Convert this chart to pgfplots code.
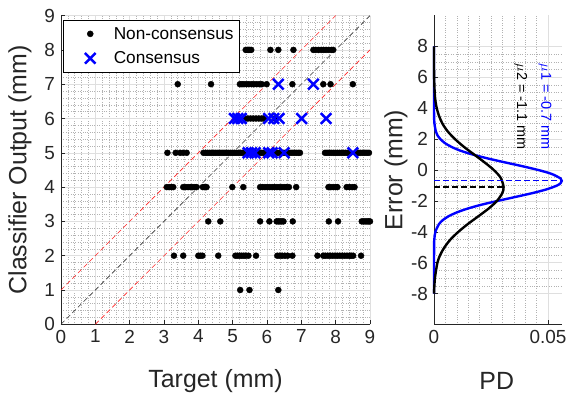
\documentclass[border=0pt]{standalone}
\usepackage{pgfplots}
\pgfplotsset{compat=1.18}
\usepackage{fontspec}
\setmainfont{Liberation Sans}
\definecolor{mgray}{gray}{0.15}
\newcommand{\lgf}{\fontsize{17.3}{19}\selectfont}
\begin{document}
\begin{tikzpicture}
\useasboundingbox (0,0) rectangle (572bp,396bp);
\pgfplotsset{
  myaxis/.style={
    scale only axis,
    axis lines*=left, axis line style={mgray, line width=0.5bp, -},
    tick align=inside, tick style={mgray, line width=0.5bp}, major tick length=4bp, minor tick length=0pt,
    grid=both,
    major grid style={gray!25, line width=0.5bp},
    minor grid style={gray!60, dotted, line width=0.5bp},
    ticklabel style={font=\fontsize{19}{22}\selectfont, text=mgray},
    label style={font=\fontsize{25}{30}\selectfont, text=mgray},
    xticklabel style={yshift=-2bp},
    yticklabel style={xshift=-2.5bp},
    /pgf/number format/assume math mode=true,
    clip=false,
  }
}
\begin{axis}[myaxis, at={(61bp,71.7bp)}, anchor=south west, width=309bp, height=308.7bp,
  xmin=0, xmax=9, ymin=0, ymax=9, xtick={0,...,9}, ytick={0,...,9}, minor tick num=4,
  xlabel={Target (mm)}, ylabel={Classifier Output (mm)},
  xlabel style={at={(axis description cs:0.5,-0.183)}, anchor=center},
  ylabel style={at={(axis description cs:-0.133,0.5)}, anchor=center},
  legend cell align=left,
  legend style={at={(axis description cs:0.0065,0.986)}, anchor=north west, draw=black, line width=0.5bp, fill=white,
    text=black, inner xsep=2bp, inner ysep=2.5bp, column sep=1bp, row sep=2bp, nodes={inner xsep=3.5bp, inner ysep=4.5bp}},
  legend image code/.code={\path[draw=none,fill=none] (0bp,-6bp) rectangle (44bp,6bp); \draw[#1] plot coordinates {(25bp,0bp)};},
]
% Non-consensus
\addplot[only marks, mark=*, mark size=3bp, black, mark options={draw=black, fill=black}] coordinates {
(5.38,8)(5.42,8)(5.46,8)(5.50,8)(5.54,8)(6.10,8)(6.33,8)(6.77,8)(7.35,8)(7.42,8)(7.50,8)(7.58,8)(7.65,8)(7.72,8)(7.80,8)(7.88,8)(7.93,8)
(3.40,7)(4.37,7)(5.21,7)(5.27,7)(5.33,7)(5.40,7)(5.47,7)(5.55,7)(5.62,7)(5.70,7)(5.78,7)(5.85,7)(5.99,7)(6.74,7)(7.64,7)(7.85,7)(8.50,7)
(5.36,6)(5.44,6)(5.52,6)(5.60,6)(5.68,6)(5.76,6)(5.84,6)(5.90,6)(6.23,6)
(3.10,5)(3.34,5)(3.47,5)(3.56,5)(3.66,5)(4.15,5)(4.21,5)(4.27,5)(4.33,5)(4.39,5)(4.45,5)(4.51,5)(4.57,5)(4.63,5)(4.69,5)(4.75,5)(4.81,5)(4.87,5)(4.93,5)(4.99,5)(5.05,5)(5.11,5)(5.17,5)(5.23,5)(5.29,5)(5.35,5)(5.41,5)(5.47,5)(5.53,5)(5.59,5)(5.65,5)(5.71,5)(5.77,5)(5.83,5)(5.89,5)(5.95,5)(6.01,5)(6.07,5)(6.13,5)(6.19,5)(6.25,5)(6.31,5)(6.37,5)(6.43,5)(6.49,5)(6.55,5)(6.61,5)(6.67,5)(6.73,5)(6.79,5)(6.85,5)(6.91,5)(6.96,5)(7.69,5)(7.75,5)(7.81,5)(7.87,5)(7.93,5)(7.99,5)(8.05,5)(8.11,5)(8.17,5)(8.23,5)(8.29,5)(8.35,5)(8.42,5)(8.61,5)(8.67,5)(8.73,5)(8.79,5)(8.85,5)(8.91,5)(8.97,5)
(3.08,4)(3.15,4)(3.22,4)(3.27,4)(3.56,4)(3.63,4)(3.70,4)(3.77,4)(3.84,4)(3.90,4)(3.95,4)(4.13,4)(4.18,4)(4.24,4)(4.99,4)(5.31,4)(5.80,4)(5.87,4)(5.94,4)(6.01,4)(6.08,4)(6.15,4)(6.22,4)(6.29,4)(6.36,4)(6.43,4)(6.50,4)(6.57,4)(6.64,4)(6.85,4)(7.79,4)(7.86,4)(7.93,4)(8.00,4)(8.05,4)(8.32,4)(8.40,4)(8.48,4)(8.55,4)
(4.29,3)(4.64,3)(5.80,3)(6.07,3)(6.28,3)(6.33,3)(6.38,3)(6.43,3)(6.48,3)(6.75,3)(7.80,3)(8.07,3)(8.76,3)(8.81,3)(8.86,3)(8.91,3)(8.96,3)(9.00,3)
(3.29,2)(3.56,2)(4.00,2)(4.06,2)(4.12,2)(4.58,2)(5.08,2)(5.14,2)(5.20,2)(5.26,2)(5.32,2)(5.38,2)(5.46,2)(5.68,2)(6.30,2)(6.37,2)(6.44,2)(6.52,2)(6.60,2)(6.74,2)(7.47,2)(7.64,2)(7.70,2)(7.77,2)(7.84,2)(7.91,2)(7.98,2)(8.05,2)(8.12,2)(8.19,2)(8.26,2)(8.33,2)(8.40,2)(8.45,2)(8.51,2)(8.74,2)
(5.22,1)(5.49,1)(6.33,1)
};
\addlegendentry{\lgf Non-consensus}
% Consensus
\addplot[only marks, mark=x, mark size=7.5bp, blue, line width=2.5bp] coordinates {
(6.33,7)(7.35,7)
(5.05,6)(5.15,6)(5.25,6)(6.05,6)(6.20,6)(6.35,6)(7.01,6)(7.72,6)
(5.45,5)(5.55,5)(5.65,5)(6.05,5)(6.15,5)(6.50,5)(8.50,5)
};
\addlegendentry{\lgf Consensus}
\addplot[forget plot, black!80, line width=0.6bp, dash pattern=on 5bp off 3bp] coordinates {(0,0)(9,9)};
\addplot[forget plot, red!85, line width=0.6bp, dash pattern=on 5bp off 3bp] coordinates {(0,1)(8,9)};
\addplot[forget plot, red!85, line width=0.6bp, dash pattern=on 5bp off 3bp] coordinates {(1,0)(9,8)};
\end{axis}

\begin{axis}[myaxis, at={(434bp,71.5bp)}, anchor=south west, width=128bp, height=309bp,
  xmin=0, xmax=0.0561, ymin=-10, ymax=10,
  xtick={0,0.05}, xticklabels={0,0.05}, scaled x ticks=false,
  ytick={-8,-6,...,8}, yticklabels={-8,-6,-4,-2,0,2,4,6,8},
  minor x tick num=9, minor y tick num=3,
  xlabel={PD}, ylabel={Error (mm)},
  xlabel style={at={(axis description cs:0.49,-0.183)}, anchor=center},
  ylabel style={at={(axis description cs:-0.297,0.5)}, anchor=center},
]
\addplot[blue, line width=2.4bp, smooth] coordinates {
(0,-8)(0.00003,-5)(0.00014,-4.5)(0.0006,-4)(0.0022,-3.5)(0.0038,-3.25)(0.0063,-3)(0.0099,-2.75)(0.0147,-2.5)(0.0207,-2.25)(0.0279,-2)(0.0355,-1.75)(0.0430,-1.5)(0.0494,-1.25)(0.0540,-1)(0.0555,-0.85)(0.0560,-0.7)(0.0555,-0.55)(0.0515,-0.25)(0.0457,0)(0.0386,0.25)(0.0309,0.5)(0.0235,0.75)(0.0170,1)(0.0116,1.25)(0.0076,1.5)(0.0047,1.75)(0.0028,2)(0.0015,2.25)(0.0008,2.5)(0.0002,3)(0.00004,3.5)(0,4.5)(0,8)
};
\addplot[black, line width=2.4bp, smooth] coordinates {
(0,-8)(0.0004,-7)(0.0015,-6)(0.0027,-5.5)(0.0046,-5)(0.0072,-4.5)(0.0107,-4)(0.0148,-3.5)(0.0194,-3)(0.0239,-2.5)(0.0276,-2)(0.0299,-1.5)(0.0305,-1.1)(0.0292,-0.5)(0.0262,0)(0.0221,0.5)(0.0176,1)(0.0131,1.5)(0.0092,2)(0.0060,2.5)(0.0037,3)(0.0022,3.5)(0.0012,4)(0.0006,4.5)(0.0003,5)(0.00006,6)(0,7)(0,8)
};
\addplot[blue, line width=1.2bp, dash pattern=on 6bp off 3bp] coordinates {(0,-0.7)(0.056,-0.7)};
\addplot[black, line width=1.2bp, dash pattern=on 6bp off 3bp] coordinates {(0,-1.1)(0.0305,-1.1)};
\node[rotate=-90, anchor=west, text=blue, font=\fontsize{14.5}{16}\selectfont] at (axis cs:0.0487,7.1) {$\mu$1 = -0.7 mm};
\node[rotate=-90, anchor=west, text=black, font=\fontsize{14.5}{16}\selectfont] at (axis cs:0.0380,7.1) {$\mu$2 = -1.1 mm};
\end{axis}
\end{tikzpicture}
\end{document}
